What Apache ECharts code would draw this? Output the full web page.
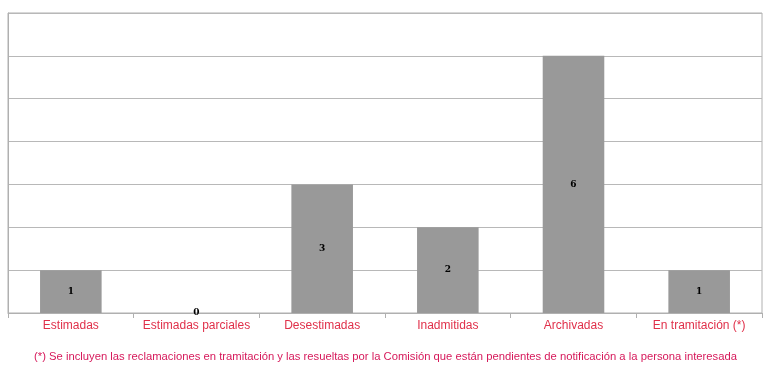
<!DOCTYPE html>
<html><head><meta charset="utf-8">
<script src="https://cdn.jsdelivr.net/npm/echarts@6/dist/echarts.min.js"></script>
<style>html,body{margin:0;padding:0;background:#fff}#c{width:771px;height:375px}</style>
</head><body><div id="c"></div>
<script>
var categories = ["Estimadas","Estimadas parciales","Desestimadas","Inadmitidas","Archivadas","En tramitación (*)"];
var values = [1,0,3,2,6,1];
var footnote = "(*) Se incluyen las reclamaciones en tramitación y las resueltas por la Comisión que están pendientes de notificación a la persona interesada";
var chart = echarts.init(document.getElementById('c'), null, {renderer:'canvas'});
chart.setOption({
  animation:false,
  grid:{left:8,right:9,top:13,bottom:62,containLabel:false,show:true,borderColor:'#b0b0b0',borderWidth:1},
  title:{text:footnote,left:'center',top:346,textStyle:{fontFamily:'Liberation Sans',fontSize:11.25,fontWeight:'normal',color:'#d6185a'}},
  xAxis:{type:'category',data:categories,
    axisLine:{lineStyle:{color:'#b0b0b0'}},
    axisTick:{show:true,interval:0,length:5,lineStyle:{color:'#b0b0b0'}},
    axisLabel:{interval:0,color:'#e0304a',fontFamily:'Liberation Sans',fontSize:12,margin:7}},
  yAxis:{type:'value',min:0,max:7,interval:1,axisLabel:{show:false},
    axisLine:{show:true,lineStyle:{color:'#b0b0b0'}},axisTick:{show:false},
    splitLine:{lineStyle:{color:'#b8b8b8'}}},
  series:[{type:'bar',data:values,barWidth:'49%',itemStyle:{color:'#999999'},
    label:{show:true,position:'inside',color:'#000',fontWeight:'bold',fontFamily:'DejaVu Serif',fontSize:9}}]
});
</script></body></html>
